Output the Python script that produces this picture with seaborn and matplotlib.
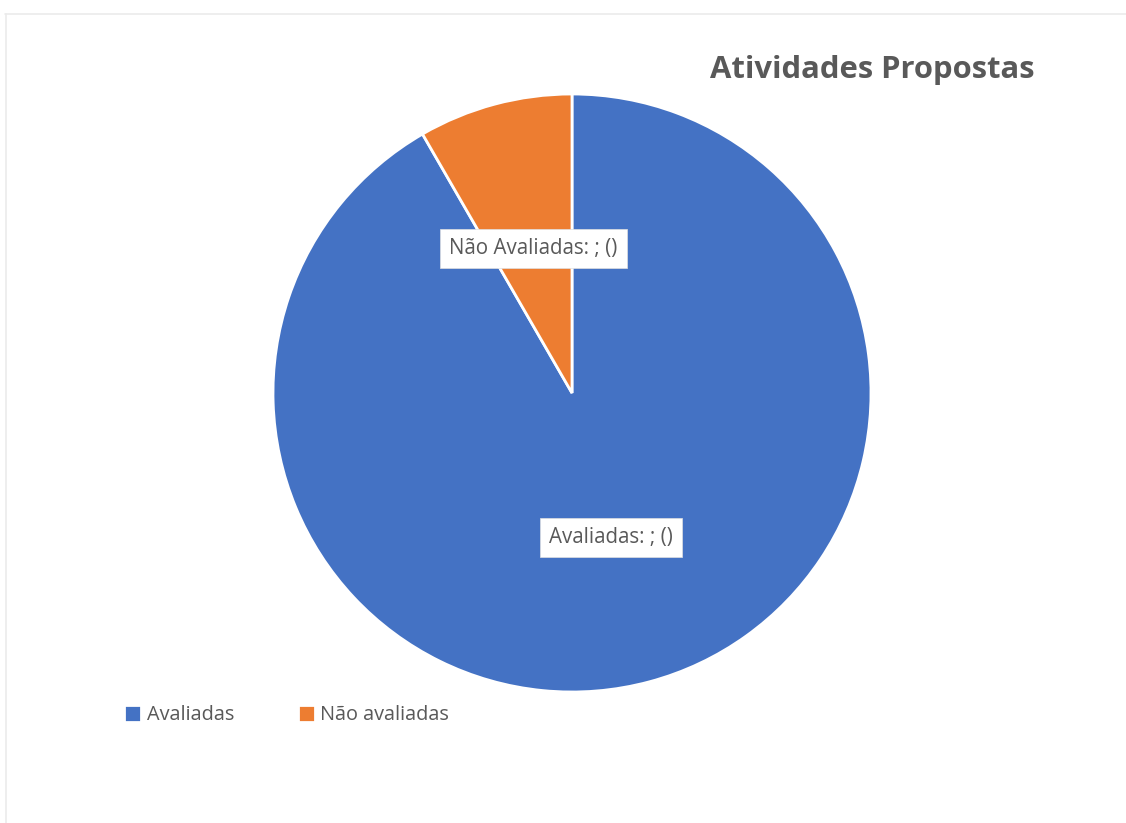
import matplotlib
matplotlib.use("Agg")
import matplotlib.pyplot as plt
import seaborn as sns
from matplotlib.lines import Line2D

# Chart data
categories = ["Avaliadas", "Não avaliadas"]
slice_labels = ["Avaliadas: ; ()", "Não Avaliadas: ; ()"]
values = [11, 1]
colors = ["#4472C4", "#ED7D31"]
title = "Atividades Propostas"

sns.set_theme(style="white")
plt.rcParams['font.family'] = ['Open Sans', 'DejaVu Sans']
text_gray = "#595959"

fig = plt.figure(figsize=(11.26, 8.23), dpi=100)
fig.patch.set_facecolor("white")

# light frame on top and left edges, like the screenshot of the chart area
fig.add_artist(Line2D([5 / 1126, 1.0], [1 - 13.5 / 823, 1 - 13.5 / 823],
                      color="#ebebeb", lw=1.2, transform=fig.transFigure))
fig.add_artist(Line2D([5.5 / 1126, 5.5 / 1126], [0.0, 1 - 13.5 / 823],
                      color="#ebebeb", lw=1.2, transform=fig.transFigure))

ax = fig.add_axes([273 / 1126, (823 - 692) / 823, 598 / 1126, 598 / 823])
wedges, texts = ax.pie(values, labels=slice_labels, colors=colors,
                       startangle=90, counterclock=False, labeldistance=0.5,
                       wedgeprops=dict(edgecolor="white", linewidth=2),
                       textprops=dict(color=text_gray, fontsize=14.8,
                                      ha="center", va="center"))
for t in texts:
    t.set_bbox(dict(facecolor="white", edgecolor="#e0e0e0", linewidth=0.5,
                    boxstyle="square,pad=0.45"))
ax.set_xlim(-1, 1)
ax.set_ylim(-1, 1)
ax.set_aspect("equal")
ax.axis("off")

fig.text(872 / 1126, 1 - 70 / 823, title, ha="center", va="center",
         fontsize=22.3, fontweight="bold", color=text_gray)

fig.legend(wedges, categories, loc="center left",
           bbox_to_anchor=(106 / 1126, 1 - 715 / 823), ncol=2, frameon=False,
           fontsize=14.3, handlelength=0.85, handleheight=0.95, handletextpad=0.3,
           columnspacing=3.2, labelcolor=text_gray)

fig.savefig("out.png", dpi=100, facecolor="white")
